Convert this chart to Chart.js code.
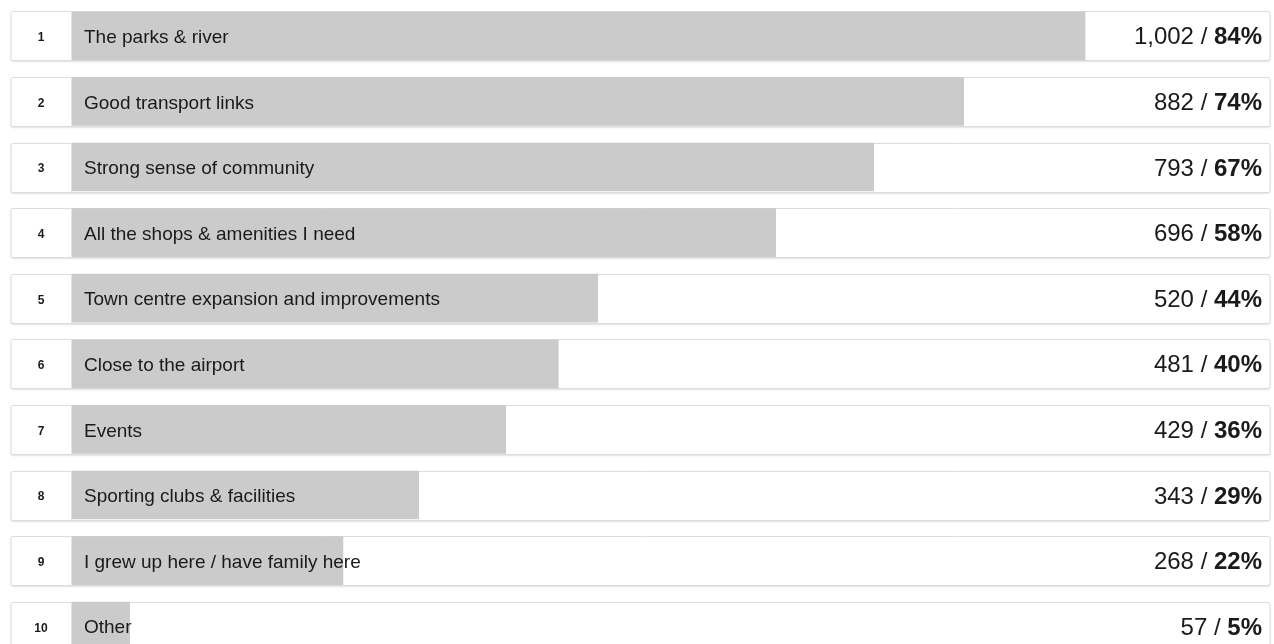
<!DOCTYPE html>
<html>
<head>
<meta charset="utf-8">
<title>Survey results</title>
<script src="https://cdn.jsdelivr.net/npm/chart.js@4.4.0/dist/chart.umd.min.js"></script>
<style>
    html, body { margin: 0; padding: 0; background: #ffffff; overflow: hidden; }
    #wrap { position: relative; width: 1274px; height: 660px; }
</style>
</head>
<body>
<div id="wrap"><canvas id="rankChart"></canvas></div>
<script>
// 数据
const categories = [
    'The parks & river',
    'Good transport links',
    'Strong sense of community',
    'All the shops & amenities I need',
    'Town centre expansion and improvements',
    'Close to the airport',
    'Events',
    'Sporting clubs & facilities',
    'I grew up here / have family here',
    'Other'
];
const counts = [1002, 882, 793, 696, 520, 481, 429, 343, 268, 57];
const percents = [84, 74, 67, 58, 44, 40, 36, 29, 22, 5];
const axisMax = 1185;

const FONT = '"Liberation Sans", Arial, Helvetica, sans-serif';

// 行框、编号、文字
const rowPlugin = {
    id: 'rowPlugin',
    beforeDatasetsDraw(chart) {
        const ctx = chart.ctx;
        const yScale = chart.scales.y;
        const left = 11, right = 1270, h = 49;
        ctx.save();
        categories.forEach((c, i) => {
            const cy = yScale.getPixelForValue(i);
            const top = Math.round(cy - h / 2) + 0.5;
            // 阴影
            ctx.shadowColor = 'rgba(0,0,0,0.18)';
            ctx.shadowBlur = 2;
            ctx.shadowOffsetY = 1;
            ctx.fillStyle = '#ffffff';
            ctx.beginPath();
            ctx.roundRect(left, top, right - left, h, 2);
            ctx.fill();
            ctx.shadowColor = 'transparent';
            ctx.strokeStyle = '#dcdcdc';
            ctx.lineWidth = 1;
            ctx.stroke();
            // 编号框分隔线
            ctx.beginPath();
            ctx.moveTo(71.5, top);
            ctx.lineTo(71.5, top + h);
            ctx.strokeStyle = '#e4e4e4';
            ctx.stroke();
        });
        ctx.restore();
    },
    afterDatasetsDraw(chart) {
        const ctx = chart.ctx;
        const yScale = chart.scales.y;
        ctx.save();
        ctx.textBaseline = 'middle';
        categories.forEach((c, i) => {
            const cy = yScale.getPixelForValue(i) + 2;
            // 编号
            ctx.fillStyle = '#1a1a1a';
            ctx.textAlign = 'center';
            ctx.font = 'bold 12px ' + FONT;
            ctx.fillText(String(i + 1), 41, cy);
            // 标签
            ctx.textAlign = 'left';
            ctx.font = '19px ' + FONT;
            ctx.fillText(c, 84, cy);
            // 数值
            const pct = percents[i] + '%';
            ctx.font = 'bold 24px ' + FONT;
            const pw = ctx.measureText(pct).width;
            const xr = 1262;
            ctx.textAlign = 'right';
            ctx.fillText(pct, xr, cy);
            ctx.font = '24px ' + FONT;
            ctx.fillText(counts[i].toLocaleString('en-US') + ' / ', xr - pw, cy);
        });
        ctx.restore();
    }
};

document.addEventListener('DOMContentLoaded', function() {
    const ctx = document.getElementById('rankChart').getContext('2d');
    new Chart(ctx, {
        type: 'bar',
        data: {
            labels: categories,
            datasets: [{
                data: counts,
                backgroundColor: '#cbcbcb',
                borderWidth: 0,
                barThickness: 48
            }]
        },
        options: {
            indexAxis: 'y',
            responsive: true,
            maintainAspectRatio: false,
            animation: false,
            layout: {
                padding: { left: 72, right: 4, top: 3, bottom: 1 }
            },
            scales: {
                x: { display: false, min: 0, max: axisMax },
                y: { display: false, offset: true }
            },
            plugins: {
                legend: { display: false },
                tooltip: { enabled: false }
            }
        },
        plugins: [rowPlugin]
    });
});
</script>
</body>
</html>
